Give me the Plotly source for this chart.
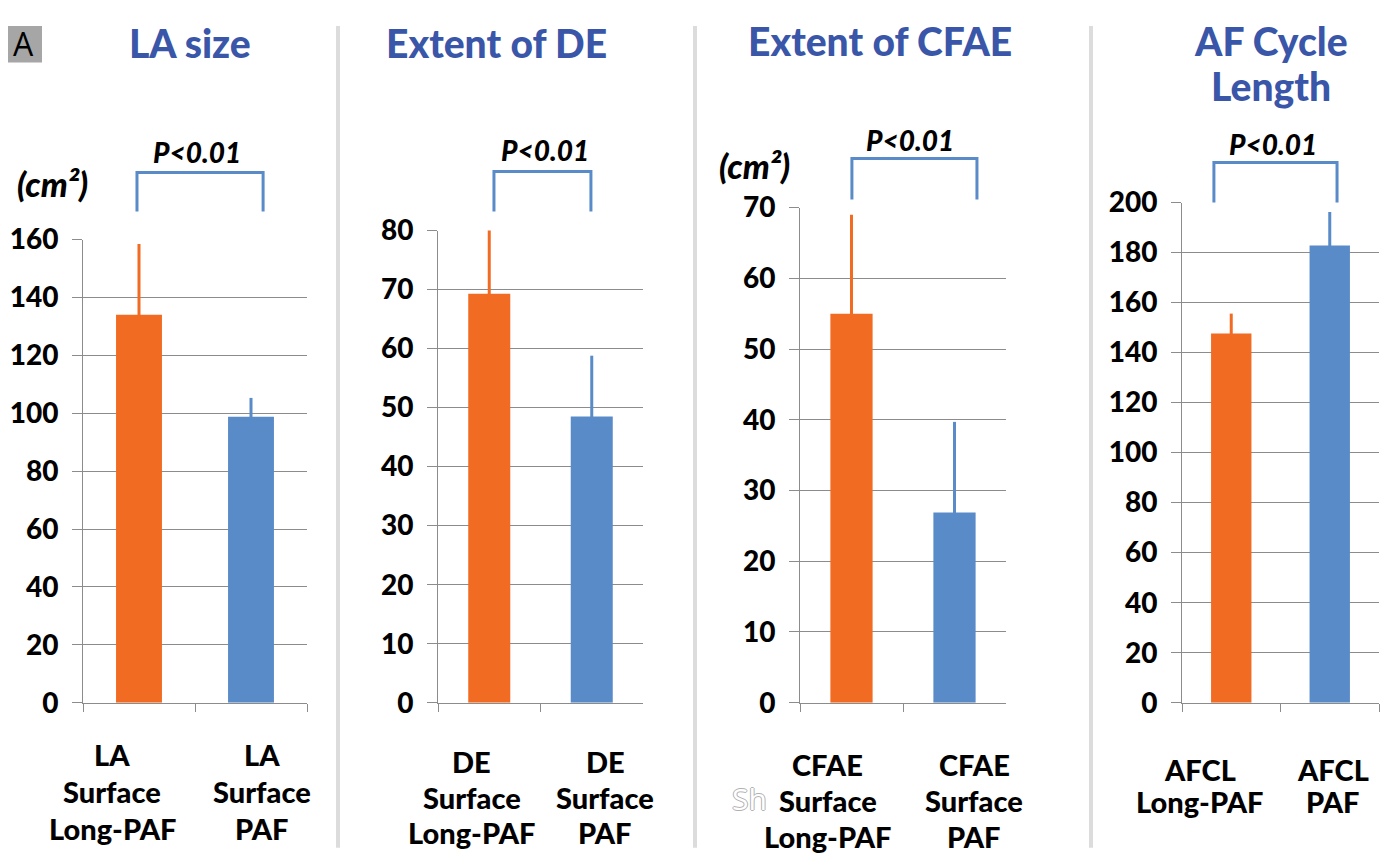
import plotly.graph_objects as go

# ---------------- data ----------------
titles = ["LA size", "Extent of DE", "Extent of CFAE", "AF Cycle<br>Length"]
cats_long = [["LA", "Surface", "Long-PAF"], ["DE", "Surface", "Long-PAF"],
             ["CFAE", "Surface", "Long-PAF"], ["AFCL", "Long-PAF"]]
cats_paf = [["LA", "Surface", "PAF"], ["DE", "Surface", "PAF"],
            ["CFAE", "Surface", "PAF"], ["AFCL", "PAF"]]
long_paf_vals = [134.0, 69.3, 55.0, 147.6]
long_paf_err = [24.5, 14.3, 14.0, 8.0]
paf_vals = [98.8, 48.5, 26.9, 182.8]
paf_err = [6.5, 10.3, 12.8, 13.4]
y_max = [160, 80, 70, 200]
y_dtick = [20, 10, 10, 20]
p_text = ["P<0.01"] * 4
units = ["(cm²)", None, "(cm²)", None]

ORANGE = "#F26B23"
BLUE = "#5A8BC9"
TITLE_BLUE = "#3A56A8"
GRID = "#8C8C8C"
FONT = "Lato"
WEIGHT = 900

# ---------------- layout geometry (reference pixels) ----------------
W_FIG, H_FIG = 1388, 857
SX, AX = 1.0, 8.0       # observed page -> picture mapping
SY, AY = 0.96, 26.5

x_px = [(83, 307), (438, 643), (800, 1006), (1182, 1379)]
y_top_px = [240, 231, 208, 203]
y_bot_px = 703
title_pos = [[(190, 43)], [(496, 43)], [(880, 41)], [(1271, 41), (1271, 86)]]
p_pos = [(197, 152), (545, 150), (910, 140), (1273, 144)]
unit_pos = [(52, 184), None, (755, 166), None]
bracket = [  # (x0 frac, x1 frac, top px, bottom px)
    (0.241, 0.804, 173, 212),
    (0.273, 0.746, 172, 212),
    (0.252, 0.859, 159, 200),
    (0.162, 0.787, 163, 203),
]
# category label centres, in category units (labels sit off the bar centres)
label_x = [(-0.24, 1.10), (-0.17, 1.13), (-0.23, 1.19), (-0.32, 1.03)]
cat_lines = [(755, 37), (762, 35.5), (765, 36), (770, 32)]
separators = [338, 695, 1091]


def px(x):
    return ((x - AX) / SX) / W_FIG


def py(y):
    return 1 - ((y - AY) / SY) / H_FIG


fig = go.Figure()
shapes = []
annotations = []
layout_axes = {}

for i in range(4):
    n = "" if i == 0 else str(i + 1)
    xa, ya = "x" + n, "y" + n
    cl = "<br>".join(cats_long[i])
    cp = "<br>".join(cats_paf[i])
    for cat, val, err, col in [(cl, long_paf_vals[i], long_paf_err[i], ORANGE),
                               (cp, paf_vals[i], paf_err[i], BLUE)]:
        fig.add_trace(go.Bar(
            x=[cat], y=[val], xaxis=xa, yaxis=ya,
            marker=dict(color=col, line=dict(width=0)),
            width=0.41,
            error_y=dict(type="data", array=[err], arrayminus=[1.5],
                         symmetric=False, color=col, thickness=3, width=0),
            cliponaxis=False, showlegend=False, hoverinfo="skip",
        ))
    x0, x1 = x_px[i]
    layout_axes["xaxis" + n] = dict(
        domain=[px(x0), px(x1)], anchor=ya, type="category",
        categoryorder="array", categoryarray=[cl, cp],
        showticklabels=False, showgrid=False, zeroline=False,
        showline=True, linecolor=GRID, linewidth=1,
        ticks="outside", tickson="boundaries", ticklen=8, tickcolor=GRID,
        range=[-0.5, 1.5], fixedrange=True,
    )
    layout_axes["yaxis" + n] = dict(
        domain=[py(y_bot_px), py(y_top_px[i])], anchor=xa,
        range=[0, y_max[i]], dtick=y_dtick[i], tick0=0,
        showgrid=True, gridcolor=GRID, gridwidth=1,
        zeroline=False, showline=True, linecolor=GRID, linewidth=1,
        ticks="outside", ticklen=10, tickcolor=GRID,
        ticklabelstandoff=8,
        tickfont=dict(family=FONT, size=28, color="black", weight=WEIGHT),
        fixedrange=True,
    )
    # title (one annotation per line)
    for line, (tx, ty) in zip(titles[i].split("<br>"), title_pos[i]):
        annotations.append(dict(
            text=line, x=px(tx), y=py(ty), xref="paper", yref="paper",
            showarrow=False, xanchor="center", yanchor="middle",
            font=dict(family=FONT, size=39, color=TITLE_BLUE, weight=WEIGHT),
        ))
    # p-value
    ppx, ppy = p_pos[i]
    annotations.append(dict(
        text="<i>" + p_text[i] + "</i>", x=px(ppx), y=py(ppy), xref="paper",
        yref="paper", showarrow=False, xanchor="center", yanchor="middle",
        font=dict(family=FONT, size=28, color="black", weight=WEIGHT),
    ))
    # units
    if units[i]:
        ux, uy = unit_pos[i]
        annotations.append(dict(
            text="<i>" + units[i] + "</i>", x=px(ux), y=py(uy), xref="paper",
            yref="paper", showarrow=False, xanchor="center", yanchor="middle",
            font=dict(family=FONT, size=34, color="black", weight=WEIGHT),
        ))
    # bracket
    bx0, bx1, btop, bbot = bracket[i]
    shapes.append(dict(
        type="path", xref=xa + " domain", yref="paper",
        path=f"M {bx0} {py(bbot)} L {bx0} {py(btop)} L {bx1} {py(btop)} L {bx1} {py(bbot)}",
        line=dict(color=BLUE, width=3),
    ))
    # category labels
    y0, dy = cat_lines[i]
    for k, lines in enumerate([cats_long[i], cats_paf[i]]):
        for j, line in enumerate(lines):
            annotations.append(dict(
                text=line, x=label_x[i][k], y=py(y0 + j * dy), xref=xa, yref="paper",
                showarrow=False, xanchor="center", yanchor="middle",
                font=dict(family=FONT, size=29, color="black", weight=WEIGHT),
            ))

# separators
for sx in separators:
    shapes.append(dict(type="line", xref="paper", yref="paper",
                       x0=px(sx), x1=px(sx), y0=py(848), y1=1,
                       line=dict(color="#DCDCDC", width=4)))

# panel letter
shapes.append(dict(type="rect", xref="paper", yref="paper",
                   x0=0, x1=px(42), y0=py(63), y1=1,
                   fillcolor="#A6A6A6", line=dict(width=0)))
annotations.append(dict(text="A", x=px(23), y=py(44), xref="paper", yref="paper",
                        showarrow=False, xanchor="center", yanchor="middle",
                        font=dict(family="Open Sans", size=32, color="black")))
# ghost text
annotations.append(dict(text="Sh", x=px(749), y=py(799), xref="paper", yref="paper",
                        showarrow=False, xanchor="center", yanchor="middle",
                        font=dict(family="Open Sans", size=30, color="white",
                                  shadow="-1px 0 #B0B0B0, 1px 0 #B0B0B0, 0 -1px #B0B0B0, 0 1px #B0B0B0")))

fig.update_layout(
    width=W_FIG, height=H_FIG, margin=dict(l=0, r=0, t=0, b=0),
    paper_bgcolor="white", plot_bgcolor="white",
    barmode="overlay", shapes=shapes, annotations=annotations,
    **layout_axes,
)

fig.write_html("out.html")
